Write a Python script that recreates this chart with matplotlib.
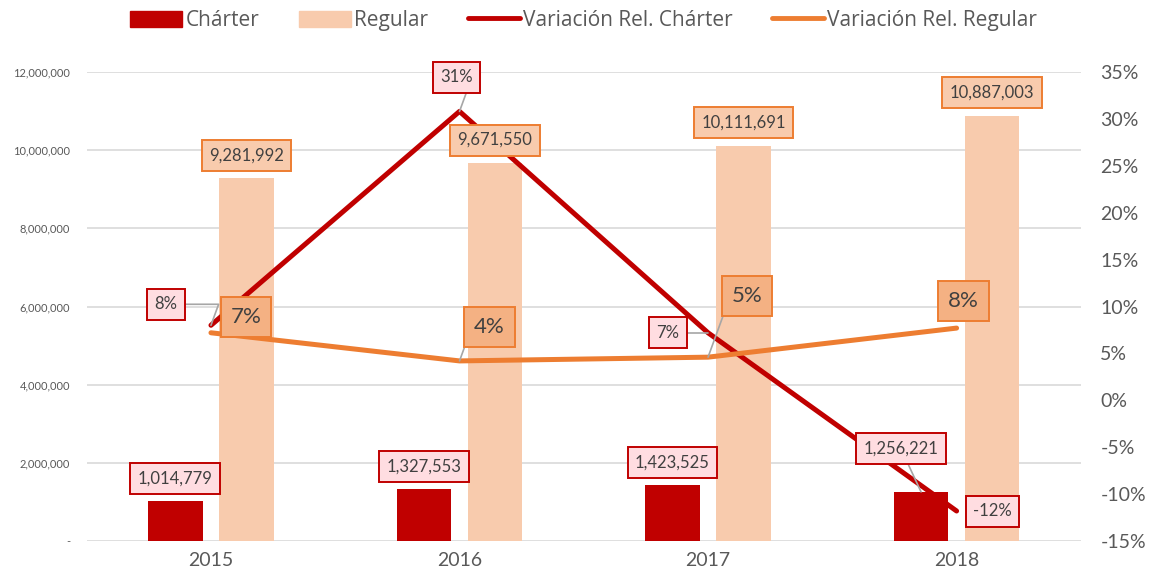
import numpy as np
import matplotlib.pyplot as plt
from matplotlib.patches import Patch
from matplotlib.lines import Line2D

plt.rcParams["font.family"] = ["Lato", "DejaVu Sans"]

# ── data ──────────────────────────────────────────────
years = ["2015", "2016", "2017", "2018"]
charter = [1014779, 1327553, 1423525, 1256221]
regular = [9281992, 9671550, 10111691, 10887003]
var_charter = [0.080, 0.308, 0.072, -0.118]
var_regular = [0.072, 0.042, 0.046, 0.077]

RED = "#C00000"
PEACH = "#F8CBAD"
ORANGE = "#ED7D31"
GRAY_TXT = "#595959"
GRID = "#D9D9D9"

fig = plt.figure(figsize=(11.56, 5.84), dpi=100)
ax1 = fig.add_axes([0.075, 0.0736, 0.86, 0.8031])
ax2 = ax1.twinx()

x = np.arange(len(years))
w, off = 0.22, 0.143
ax1.bar(x - off, charter, w, color=RED, zorder=2)
ax1.bar(x + off, regular, w, color=PEACH, zorder=2)

ax2.plot(x, var_charter, color=RED, lw=3.6, solid_capstyle="round", zorder=3)
ax2.plot(x, var_regular, color=ORANGE, lw=3.6, solid_capstyle="round", zorder=3)

ax1.set_xlim(-0.5, 3.5)
ax1.set_ylim(0, 12_000_000)
ax2.set_ylim(-0.15, 0.35)
ax1.set_yticks(np.arange(0, 12_000_001, 2_000_000))
ax1.set_yticklabels(["-"] + [f"{v:,.0f}" for v in np.arange(2_000_000, 12_000_001, 2_000_000)])
ax2.set_yticks(np.arange(-0.15, 0.3501, 0.05))
ax2.set_yticklabels([f"{round(v*100):d}%" for v in np.arange(-0.15, 0.3501, 0.05)])
ax1.set_xticks(x)
ax1.set_xticklabels(years)

ax1.grid(axis="y", color=GRID, lw=1.2)
ax1.set_axisbelow(True)
for a in (ax1, ax2):
    for s in a.spines.values():
        s.set_visible(False)
    a.tick_params(length=0, colors=GRAY_TXT)
ax1.tick_params(axis="y", labelsize=8, pad=12)
ax1.tick_params(axis="x", labelsize=14, pad=8)
ax2.tick_params(axis="y", labelsize=14, pad=14)

# ── labels ────────────────────────────────────────────
def label(xy, trans, text, dx, dy, fc, ec, size, leader=None):
    ax2.annotate(text, xy=xy, xycoords=trans, xytext=(dx, dy),
                 textcoords="offset pixels", ha="center", va="center",
                 fontsize=size, color="#404040", zorder=6,
                 bbox=dict(boxstyle="square,pad=0.45", fc=fc, ec=ec, lw=1.4),
                 arrowprops=dict(arrowstyle="-", color="#A6A6A6", lw=1.2,
                                 connectionstyle=leader,
                                 shrinkA=0, shrinkB=0) if leader else None)

PINK = "#FFDDE1"
ELBOW = "angle,angleA=0,angleB=70"
c_off = [(0, 23), (0, 23), (0, 23), (-20, 43)]
for i, v in enumerate(charter):
    label((x[i] - off, v), ax1.transData, f"{v:,}", *c_off[i], PINK, RED, 12,
          leader="arc3" if i == 3 else None)
for i, v in enumerate(regular):
    label((x[i] + off, v), ax1.transData, f"{v:,}", 0, 23, PEACH, ORANGE, 12)

vc_off = [(-45, 21), (-3, 34), (-40, 0), (36, 0)]
for i, v in enumerate(var_charter):
    label((x[i], v), ax2.transData, f"{round(v*100):d}%", *vc_off[i], PINK, RED, 12,
          leader=ELBOW if i < 3 else None)
vr_off = [(35, 16), (30, 34), (39, 61), (7, 27)]
for i, v in enumerate(var_regular):
    label((x[i], v), ax2.transData, f"{round(v*100):d}%", *vr_off[i], "#F4B183", ORANGE, 16,
          leader=ELBOW if i in (1, 2) else None)

# ── legend ────────────────────────────────────────────
handles = [Patch(color=RED), Patch(color=PEACH),
           Line2D([], [], color=RED, lw=3.5, solid_capstyle="round"),
           Line2D([], [], color=ORANGE, lw=3.5, solid_capstyle="round")]
names = ["Chárter", "Regular", "Variación Rel. Chárter", "Variación Rel. Regular"]
fig.legend(handles, names, loc="upper center", bbox_to_anchor=(0.505, 1.015), ncol=4,
           frameon=False, prop={"family": "Open Sans", "size": 15},
           labelcolor=GRAY_TXT, handlelength=2.5,
           handletextpad=0.15, columnspacing=1.9, handleheight=0.8)

fig.savefig("out.png", dpi=100)
